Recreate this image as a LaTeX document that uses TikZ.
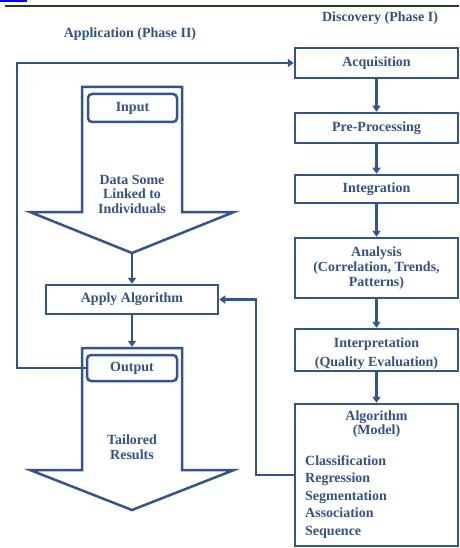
\documentclass[tikz,border=0pt]{standalone}
\usepackage{fontspec}
\setmainfont{Liberation Serif}
\usetikzlibrary{arrows.meta}
\definecolor{dblue}{RGB}{47,85,151}
\definecolor{tblue}{RGB}{50,82,140}
\definecolor{dgreen}{RGB}{30,70,20}
\begin{document}
\begin{tikzpicture}[x=1pt,y=-1pt,
  txt/.style={text=tblue, font=\bfseries\fontsize{14}{15}\selectfont, align=center, inner sep=0pt},
  box/.style={txt, draw=dblue, line width=2.5pt, minimum width=163pt},
  rbox/.style={box, rounded corners=4pt},
  barrow/.style={draw=dblue, line width=2.5pt, line join=miter},
  conn/.style={draw=dblue, line width=2.2pt, -{Triangle[length=6pt,width=8pt]}}]
\useasboundingbox (0,0) rectangle (459,548);
\fill[white] (0,0) rectangle (459,548);
% top decorations
\draw[blue, line width=2pt] (0,1) -- (27,1);
\draw[dgreen, line width=1.5pt] (5,6) -- (459,6);
% titles
\node[txt] (t2) at (130,34) {Application (Phase II)};
\node[txt] (t1) at (380,18) {Discovery (Phase I)};
% discovery column
\node[box, minimum height=30pt] (acq) at (376.5,63) {Acquisition};
\node[box, minimum height=30pt] (pre) at (376.5,128) {Pre-Processing};
\node[box, minimum height=28pt] (int) at (376.5,189) {Integration};
\node[box, minimum height=60pt] (ana) at (376.5,268) {Analysis\\(Correlation, Trends,\\Patterns)};
\node[box, minimum height=42pt] (intp) at (376.5,350) {};
\node[txt] (intpt) at (376.5,354) {Interpretation\\[4pt](Quality Evaluation)};
\node[box, minimum height=142pt] (alg) at (376.5,475) {};
\node[txt, font=\bfseries\fontsize{14}{14}\selectfont] (algt) at (376.5,424) {Algorithm\\(Model)};
\node[txt, anchor=west, align=left, font=\bfseries\fontsize{14}{17.5}\selectfont] (alist) at (305,497) {Classification\\Regression\\Segmentation\\Association\\Sequence};
\draw[conn] (acq) -- (pre);
\draw[conn] (pre) -- (int);
\draw[conn] (int) -- (ana);
\draw[conn] (ana) -- (intp);
\draw[conn] (intp) -- (alg);
% application column
\draw[barrow] (82,87) -- (182,87) -- (182,212) -- (234,212) -- (132,253) -- (30,212) -- (82,212) -- cycle;
\coordinate (intip) at (132,253);
\node[rbox, minimum width=89pt, minimum height=28pt] (inp) at (132.5,108) {Input};
\node[txt, font=\bfseries\fontsize{14}{14.5}\selectfont] (data) at (132,194) {Data Some\\Linked to\\Individuals};
\node[box, minimum width=172pt, minimum height=29pt] (app) at (132,299.5) {Apply Algorithm};
\draw[barrow] (82,348) -- (182,348) -- (182,470) -- (234,470) -- (132,510) -- (30,470) -- (82,470) -- cycle;
\coordinate (outtop) at (132,348);
\node[rbox, minimum width=90pt, minimum height=26pt] (out) at (132,368) {Output};
\node[txt] (tail) at (132,447) {Tailored\\Results};
\draw[conn] (intip) -- (app.north);
\draw[conn, shorten >=1.2pt] (app.south) -- (outtop);
% feedback connectors
\draw[conn] (out.west) -- ++(-69,0) |- (acq.west);
\draw[conn] (alg.west) -- ++(-38,0) |- (app.east);
\end{tikzpicture}
\end{document}
